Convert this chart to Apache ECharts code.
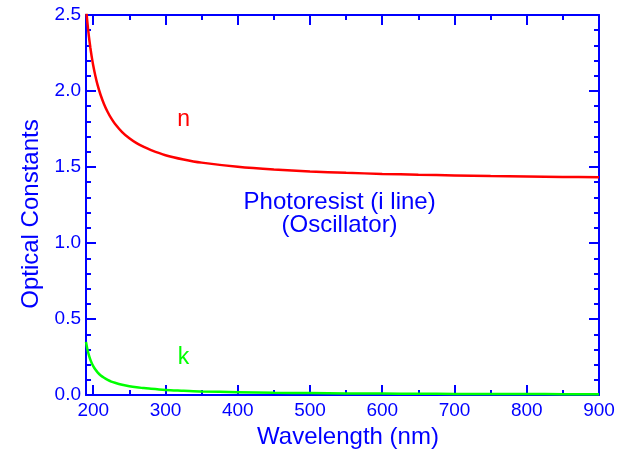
<!DOCTYPE html>
<html><head><meta charset="utf-8">
<script src="https://cdn.jsdelivr.net/npm/echarts@6/dist/echarts.min.js"></script>
<style>html,body{margin:0;padding:0;background:#fff}#c{width:623px;height:454px}</style>
</head><body><div id="c"></div>
<script>
// Data
const wavelengths = [190,192,194,196,198,200,203,206,210,215,220,225,230,240,250,260,270,280,300,325,350,400,450,500,550,600,650,700,750,800,850,900];
const nValues = [2.552,2.447,2.360,2.286,2.223,2.168,2.099,2.040,1.977,1.913,1.862,1.820,1.785,1.730,1.689,1.657,1.632,1.611,1.578,1.550,1.529,1.502,1.484,1.471,1.462,1.455,1.449,1.445,1.441,1.438,1.435,1.433];
const kValues = [0.350,0.300,0.263,0.233,0.210,0.191,0.168,0.150,0.131,0.114,0.100,0.089,0.081,0.068,0.058,0.051,0.046,0.041,0.034,0.029,0.024,0.019,0.015,0.013,0.011,0.010,0.009,0.008,0.007,0.0068,0.0063,0.0058];
const xMajorTicks = [200,300,400,500,600,700,800,900];
const xMinorTicks = [250,350,450,550,650,750,850];
const xLabelTexts = ['200','300','400','500','600','700','800','900'];
const xRange = [190, 900];
const yRange = [0, 2.5];
const titleLines = ['Photoresist (i line)', '(Oscillator)'];
const titleAnchor = [541, 1.19];
const nLabel = {text:'n', at:[325, 1.81]};
const kLabel = {text:'k', at:[325, 0.245]};

const BLUE = '#0000ff';
const RED = '#ff0000';
const GREEN = '#00ff00';
const FONT = '"Liberation Sans", Arial, Helvetica, sans-serif';
const chart = echarts.init(document.getElementById('c'), null, {renderer:'canvas'});

function xAx(pos, major, showLabel){
  return {
    type:'value', position:pos, min:xRange[0], max:xRange[1],
    axisLine:{show:major, onZero:false, lineStyle:{color:BLUE, width:2}},
    axisTick:{show:true, inside:true, length: major?10:5, lineStyle:{color:BLUE, width:2},
      customValues: major? xMajorTicks : xMinorTicks},
    axisLabel:{show:showLabel, customValues:xMajorTicks, margin:6, color:BLUE, fontSize:19, fontFamily:FONT,
      formatter:(v)=>{const i=xMajorTicks.indexOf(v);return i>=0?xLabelTexts[i]:'';}},
    splitLine:{show:false},
    name: showLabel ? 'Wavelength (nm)' : '',
    nameLocation:'middle', nameGap:27,
    nameTextStyle:{color:BLUE, fontSize:24, fontFamily:FONT, padding:[0,0,0,11]}
  };
}
function yAx(pos, showLabel){
  return {
    type:'value', position:pos, min:yRange[0], max:yRange[1], interval:0.5,
    axisLine:{show:true, onZero:false, lineStyle:{color:BLUE, width:2}},
    axisTick:{show:true, inside:true, length:10, lineStyle:{color:BLUE, width:2}},
    minorTick:{show:true, splitNumber:5, length:5, lineStyle:{color:BLUE, width:2}},
    axisLabel:{show:showLabel, margin:5, color:BLUE, fontSize:19, fontFamily:FONT, formatter:(v)=>v.toFixed(1)},
    splitLine:{show:false}, minorSplitLine:{show:false},
    name: showLabel ? 'Optical Constants' : '',
    nameLocation:'middle', nameGap:38,
    nameTextStyle:{color:BLUE, fontSize:24, fontFamily:FONT, padding:[0,18,0,0]}
  };
}

const option = {
  animation:false,
  backgroundColor:'#ffffff',
  grid:{left:86, top:15, right:24, bottom:55.5, containLabel:false},
  xAxis:[xAx('bottom',true,true), xAx('bottom',false,false), xAx('top',true,false), xAx('top',false,false)],
  yAxis:[yAx('left',true), yAx('right',false)],
  series:[
    {type:'line', name:'n', xAxisIndex:0, yAxisIndex:0, showSymbol:false, smooth:0.3, clip:true,
     data:wavelengths.map((w,i)=>[w,nValues[i]]), lineStyle:{color:RED, width:2.5}, itemStyle:{color:RED}},
    {type:'line', name:'k', xAxisIndex:0, yAxisIndex:0, showSymbol:false, smooth:0.3, clip:true,
     data:wavelengths.map((w,i)=>[w,kValues[i]]), lineStyle:{color:GREEN, width:2.5}, itemStyle:{color:GREEN}}
  ]
};
chart.setOption(option);

// Text annotations placed in data space
const toPx = (p)=>chart.convertToPixel({xAxisIndex:0, yAxisIndex:0}, p);
const tp = toPx(titleAnchor);
const np = toPx(nLabel.at);
const kp = toPx(kLabel.at);
chart.setOption({graphic:[
  {type:'text', x:tp[0], y:tp[1], style:{text:titleLines.join('\n'), fill:BLUE, font:'24px '+FONT, align:'center', verticalAlign:'middle', lineHeight:23}},
  {type:'text', x:np[0], y:np[1], style:{text:nLabel.text, fill:RED, font:'23px '+FONT, align:'center', verticalAlign:'middle'}},
  {type:'text', x:kp[0], y:kp[1], style:{text:kLabel.text, fill:GREEN, font:'23px '+FONT, align:'center', verticalAlign:'middle'}}
]});
</script></body></html>
